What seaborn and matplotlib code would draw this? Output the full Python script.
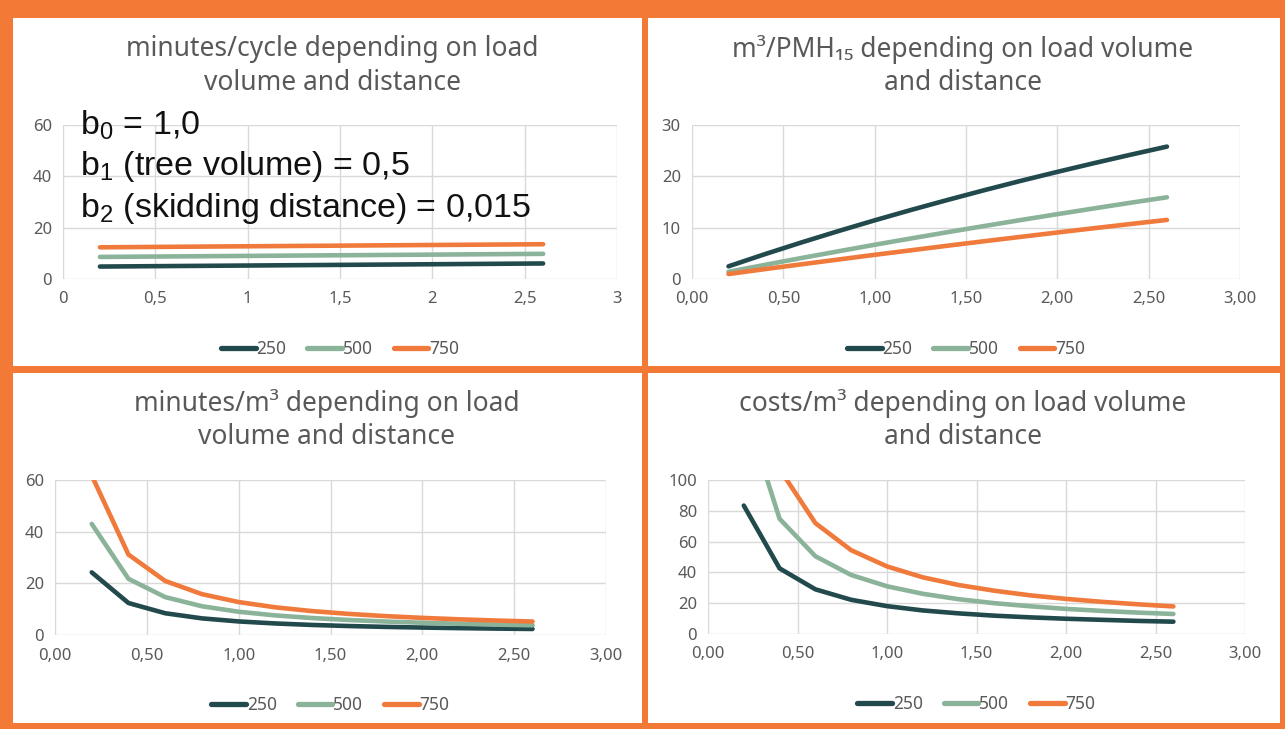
import matplotlib
matplotlib.use("Agg")
import matplotlib.pyplot as plt
import seaborn as sns
import pandas as pd
from matplotlib.patches import Rectangle
from matplotlib.lines import Line2D

# ---------------- data ----------------
load_volume = [0.2, 0.4, 0.6, 0.8, 1.0, 1.2, 1.4, 1.6, 1.8, 2.0, 2.2, 2.4, 2.6]
distances = ["250", "500", "750"]

cycle_250 = [4.85, 4.95, 5.05, 5.15, 5.25, 5.35, 5.45, 5.55, 5.65, 5.75, 5.85, 5.95, 6.05]
cycle_500 = [8.60, 8.70, 8.80, 8.90, 9.00, 9.10, 9.20, 9.30, 9.40, 9.50, 9.60, 9.70, 9.80]
cycle_750 = [12.35, 12.45, 12.55, 12.65, 12.75, 12.85, 12.95, 13.05, 13.15, 13.25, 13.35, 13.45, 13.55]

pmh_250 = [2.47, 4.85, 7.13, 9.32, 11.43, 13.46, 15.41, 17.30, 19.12, 20.87, 22.56, 24.20, 25.79]
pmh_500 = [1.40, 2.76, 4.09, 5.39, 6.67, 7.91, 9.13, 10.32, 11.49, 12.63, 13.75, 14.85, 15.92]
pmh_750 = [0.97, 1.93, 2.87, 3.79, 4.71, 5.60, 6.49, 7.36, 8.21, 9.06, 9.89, 10.71, 11.51]

minm3_250 = [24.25, 12.38, 8.42, 6.44, 5.25, 4.46, 3.89, 3.47, 3.14, 2.88, 2.66, 2.48, 2.33]
minm3_500 = [43.00, 21.75, 14.67, 11.13, 9.00, 7.58, 6.57, 5.81, 5.22, 4.75, 4.36, 4.04, 3.77]
minm3_750 = [61.75, 31.13, 20.92, 15.81, 12.75, 10.71, 9.25, 8.16, 7.31, 6.63, 6.07, 5.60, 5.21]

cost_250 = [83.4, 42.6, 29.0, 22.2, 18.1, 15.3, 13.4, 11.9, 10.8, 9.9, 9.2, 8.5, 8.0]
cost_500 = [147.9, 74.8, 50.5, 38.3, 31.0, 26.1, 22.6, 20.0, 18.0, 16.3, 15.0, 13.9, 13.0]
cost_750 = [212.4, 107.1, 72.0, 54.4, 43.9, 36.8, 31.8, 28.1, 25.1, 22.8, 20.9, 19.3, 17.9]

titles = [
    "minutes/cycle depending on load\nvolume and distance",
    "m³/PMH₁₅ depending on load volume\nand distance",
    "minutes/m³ depending on load\nvolume and distance",
    "costs/m³ depending on load volume\nand distance",
]

x_ticks_tl = [0, 0.5, 1, 1.5, 2, 2.5, 3]
x_labels_tl = ["0", "0,5", "1", "1,5", "2", "2,5", "3"]
x_ticks = [0, 0.5, 1.0, 1.5, 2.0, 2.5, 3.0]
x_labels = ["0,00", "0,50", "1,00", "1,50", "2,00", "2,50", "3,00"]
y_ticks_tl = [0, 20, 40, 60]
y_ticks_tr = [0, 10, 20, 30]
y_ticks_bl = [0, 20, 40, 60]
y_ticks_br = [0, 20, 40, 60, 80, 100]

annotation = [r"b$_\mathregular{0}$ = 1,0",
              r"b$_\mathregular{1}$ (tree volume) = 0,5",
              r"b$_\mathregular{2}$ (skidding distance) = 0,015"]

# ---------------- style ----------------
ORANGE_BG = "#F37A36"
palette = {"250": "#224A4D", "500": "#8BB39A", "750": "#EF7A3C"}
GRAY = "#595959"

sns.set_style("white")
plt.rcParams["font.family"] = ["Noto Sans", "DejaVu Sans"]
plt.rcParams["mathtext.fontset"] = "custom"
plt.rcParams["mathtext.rm"] = "Liberation Sans"

W, H = 1285, 729
fig = plt.figure(figsize=(W / 100, H / 100), dpi=100, facecolor=ORANGE_BG)

panels = [(13, 18, 642, 366), (648, 18, 1280, 366), (13, 373, 642, 723), (648, 373, 1280, 723)]
for (x0, y0, x1, y1) in panels:
    fig.add_artist(Rectangle((x0 / W, 1 - y1 / H), (x1 - x0) / W, (y1 - y0) / H,
                             transform=fig.transFigure, facecolor="white",
                             edgecolor="none", zorder=-1))

# axes pixel boxes: left, right, top, bottom
boxes = [(63, 617, 125, 279), (692, 1240, 125, 279), (55, 606, 480, 635), (708, 1245, 480, 634)]
title_centers = [(332, 66), (963, 66), (327, 420), (963, 420)]

def make_df(s250, s500, s750):
    rows = []
    for name, vals in zip(distances, [s250, s500, s750]):
        for xv, yv in zip(load_volume, vals):
            rows.append({"load": xv, "value": yv, "distance": name})
    return pd.DataFrame(rows)

datasets = [
    make_df(cycle_250, cycle_500, cycle_750),
    make_df(pmh_250, pmh_500, pmh_750),
    make_df(minm3_250, minm3_500, minm3_750),
    make_df(cost_250, cost_500, cost_750),
]
yticks_all = [y_ticks_tl, y_ticks_tr, y_ticks_bl, y_ticks_br]

for i, (box, df) in enumerate(zip(boxes, datasets)):
    l, r, t, b = box
    ax = fig.add_axes([l / W, 1 - b / H, (r - l) / W, (b - t) / H])
    ax.set_facecolor("white")
    sns.lineplot(data=df, x="load", y="value", hue="distance", palette=palette,
                 linewidth=3.3, ax=ax, legend=False, sort=False)
    yt = yticks_all[i]
    ax.set_ylim(yt[0], yt[-1])
    ax.set_xlim(0, 3)
    if i == 0:
        ax.set_xticks(x_ticks_tl)
        ax.set_xticklabels(x_labels_tl)
    else:
        ax.set_xticks(x_ticks)
        ax.set_xticklabels(x_labels)
    ax.set_yticks(yt)
    ax.set_yticklabels([str(v) for v in yt])
    ax.grid(True, color="#D9D9D9", linewidth=1.0)
    ax.set_axisbelow(True)
    for sp in ax.spines.values():
        sp.set_visible(False)
    ax.tick_params(axis="both", length=0, labelsize=12, labelcolor=GRAY)
    ax.tick_params(axis="x", pad=9)
    ax.tick_params(axis="y", pad=8)
    ax.set_xlabel("")
    ax.set_ylabel("")

    handles = [Line2D([0], [0], color=palette[d], lw=3.8) for d in distances]
    ax.legend(handles, distances, loc="center", bbox_to_anchor=(0.5, -(70) / (b - t)),
              ncol=3, frameon=False, fontsize=12.5, labelcolor=GRAY,
              handlelength=2.0, handletextpad=0.05, columnspacing=1.2)

    cx, cy = title_centers[i]
    fig.text(cx / W, 1 - cy / H, titles[i], ha="center", va="center",
             fontsize=19, color=GRAY, linespacing=1.25)

ann_y = [125, 167, 209]
for txt, yy in zip(annotation, ann_y):
    fig.text(80 / W, 1 - yy / H, txt, ha="left", va="center", fontsize=24.5,
             color="#111111", family=["Liberation Sans", "DejaVu Sans"])

fig.savefig("out.png", dpi=100, facecolor=ORANGE_BG)
